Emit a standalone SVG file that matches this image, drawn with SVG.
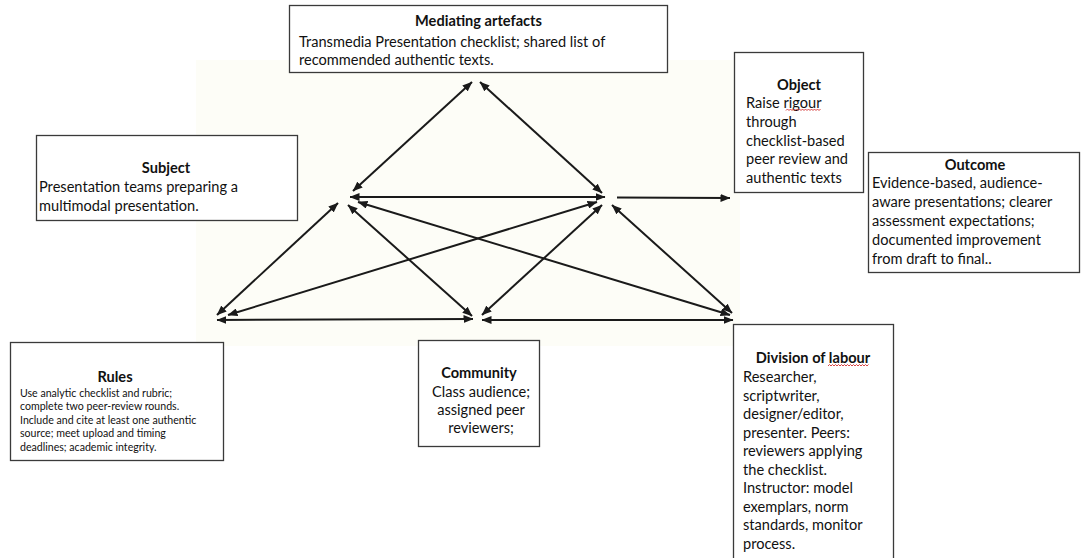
<svg xmlns="http://www.w3.org/2000/svg" width="1082" height="558" viewBox="0 0 1082 558">
  <defs>
    <marker id="head" viewBox="0 0 10 8" refX="9.5" refY="4" markerWidth="10" markerHeight="8" markerUnits="userSpaceOnUse" orient="auto-start-reverse">
      <path d="M0,0 L10,4 L0,8 z" fill="#1a1a1a"/>
    </marker>
    <style>
      .box { fill: #ffffff; stroke: #3a3a3a; stroke-width: 1.3; }
      .t { font-family: Lato, "Liberation Sans", sans-serif; font-size: 14.6px; fill: #111; }
      .h { font-family: Lato, "Liberation Sans", sans-serif; font-size: 14.6px; font-weight: bold; fill: #111; text-anchor: middle; }
      .s { font-family: Lato, "Liberation Sans", sans-serif; font-size: 10.6px; fill: #111; }
      .c { text-anchor: middle; }
      .ln { stroke: #1a1a1a; stroke-width: 2; fill: none; }
      .two { marker-start: url(#head); marker-end: url(#head); }
      .one { marker-end: url(#head); }
      .sq { stroke: #d23030; stroke-width: 0.9; fill: none; }
    </style>
  </defs>

  <rect width="1082" height="558" fill="#ffffff"/>
  <!-- pale backdrop behind the triangle -->
  <rect x="196" y="60" width="544" height="286" fill="#fdfdf7"/>

  <g id="connectors">
    <line class="ln two" x1="472" y1="82" x2="353" y2="191"/>
    <line class="ln two" x1="480" y1="82" x2="602" y2="193"/>
    <line class="ln two" x1="350" y1="197" x2="605" y2="197"/>
    <line class="ln one" x1="617" y1="197.5" x2="730" y2="198"/>
    <line class="ln two" x1="338" y1="203" x2="217" y2="315"/>
    <line class="ln two" x1="348" y1="205" x2="472" y2="316"/>
    <line class="ln two" x1="358" y1="202" x2="730" y2="315"/>
    <line class="ln two" x1="597" y1="202" x2="228" y2="315"/>
    <line class="ln two" x1="602" y1="205" x2="482" y2="315"/>
    <line class="ln two" x1="612" y1="205" x2="732" y2="313"/>
    <line class="ln two" x1="217" y1="320" x2="473" y2="319"/>
    <line class="ln two" x1="482" y1="320" x2="733" y2="320"/>
  </g>

  <g id="mediating-artefacts">
    <rect class="box" x="289.5" y="5.5" width="378" height="67"/>
    <text class="h" x="478.5" y="26">Mediating artefacts</text>
    <text class="t" x="299" y="47">Transmedia Presentation checklist; shared list of</text>
    <text class="t" x="299" y="65">recommended authentic texts.</text>
  </g>

  <g id="object">
    <rect class="box" x="734.5" y="52.5" width="129" height="140"/>
    <text class="h" x="799" y="90">Object</text>
    <text class="t" x="746" y="108">Raise rigour</text>
    <text class="t" x="746" y="127">through</text>
    <text class="t" x="746" y="145.5">checklist-based</text>
    <text class="t" x="746" y="164">peer review and</text>
    <text class="t" x="746" y="182.5">authentic texts</text>
    <path class="sq" d="M786,110.5 l1.5,-1.5 l1.5,1.5 l1.5,-1.5 l1.5,1.5 l1.5,-1.5 l1.5,1.5 l1.5,-1.5 l1.5,1.5 l1.5,-1.5 l1.5,1.5 l1.5,-1.5 l1.5,1.5 l1.5,-1.5 l1.5,1.5 l1.5,-1.5 l1.5,1.5 l1.5,-1.5 l1.5,1.5 l1.5,-1.5 l1.5,1.5 l1.5,-1.5 l1.5,1.5 l1.5,-1.5"/>
  </g>

  <g id="subject">
    <rect class="box" x="36.5" y="135.5" width="261" height="85"/>
    <text class="h" x="166" y="173">Subject</text>
    <text class="t" x="39" y="192">Presentation teams preparing a</text>
    <text class="t" x="39" y="211">multimodal presentation.</text>
  </g>

  <g id="outcome">
    <rect class="box" x="868.5" y="152.5" width="211" height="120"/>
    <text class="h" x="975" y="170">Outcome</text>
    <text class="t" x="872" y="188">Evidence-based, audience-</text>
    <text class="t" x="872" y="207">aware presentations; clearer</text>
    <text class="t" x="872" y="226">assessment expectations;</text>
    <text class="t" x="872" y="245">documented improvement</text>
    <text class="t" x="872" y="264">from draft to final..</text>
  </g>

  <g id="rules">
    <rect class="box" x="10.5" y="342.5" width="213" height="118"/>
    <text class="h" x="115" y="382">Rules</text>
    <text class="s" x="20" y="396.5">Use analytic checklist and rubric;</text>
    <text class="s" x="20" y="410">complete two peer-review rounds.</text>
    <text class="s" x="20" y="423.5">Include and cite at least one authentic</text>
    <text class="s" x="20" y="437">source; meet upload and timing</text>
    <text class="s" x="20" y="450.5">deadlines; academic integrity.</text>
  </g>

  <g id="community">
    <rect class="box" x="418.5" y="340.5" width="121" height="106"/>
    <text class="h" x="479" y="378">Community</text>
    <text class="t c" x="481" y="397">Class audience;</text>
    <text class="t c" x="481" y="415">assigned peer</text>
    <text class="t c" x="481" y="433">reviewers;</text>
  </g>

  <g id="division-of-labour">
    <rect class="box" x="733.5" y="324.5" width="160" height="250"/>
    <text class="h" x="813" y="363">Division of labour</text>
    <text class="t" x="743" y="382">Researcher,</text>
    <text class="t" x="743" y="400.5">scriptwriter,</text>
    <text class="t" x="743" y="419">designer/editor,</text>
    <text class="t" x="743" y="437.5">presenter. Peers:</text>
    <text class="t" x="743" y="456">reviewers applying</text>
    <text class="t" x="743" y="474.5">the checklist.</text>
    <text class="t" x="743" y="493">Instructor: model</text>
    <text class="t" x="743" y="511.5">exemplars, norm</text>
    <text class="t" x="743" y="530">standards, monitor</text>
    <text class="t" x="743" y="548.5">process.</text>
    <path class="sq" d="M828,366 l1.5,-1.5 l1.5,1.5 l1.5,-1.5 l1.5,1.5 l1.5,-1.5 l1.5,1.5 l1.5,-1.5 l1.5,1.5 l1.5,-1.5 l1.5,1.5 l1.5,-1.5 l1.5,1.5 l1.5,-1.5 l1.5,1.5 l1.5,-1.5 l1.5,1.5 l1.5,-1.5 l1.5,1.5 l1.5,-1.5 l1.5,1.5 l1.5,-1.5 l1.5,1.5 l1.5,-1.5 l1.5,1.5 l1.5,-1.5 l1.5,1.5 l1.5,-1.5"/>
  </g>
</svg>
